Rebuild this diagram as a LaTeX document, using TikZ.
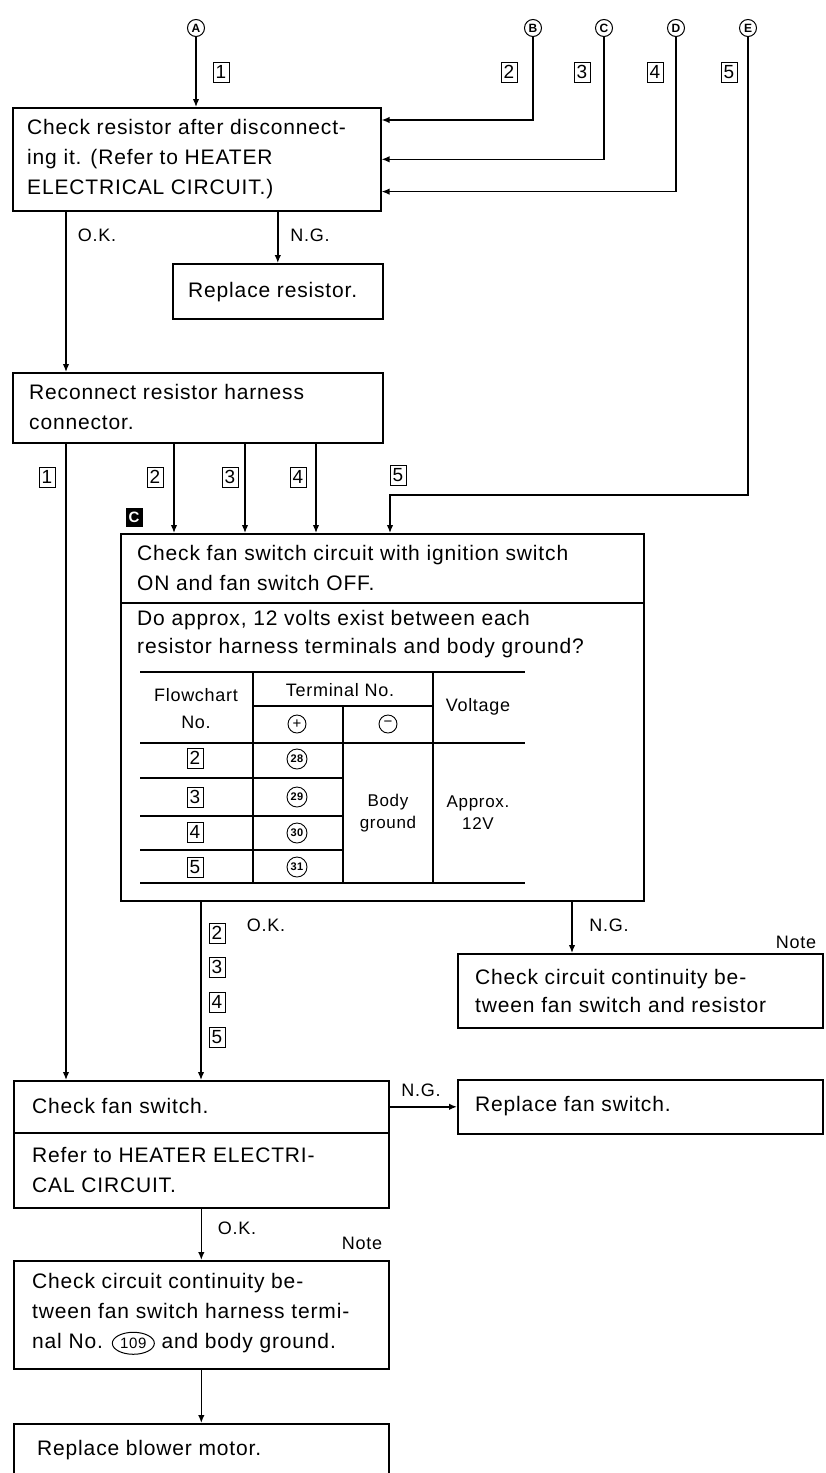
\documentclass[tikz,border=0pt]{standalone}
\usepackage{fontspec}
\setmainfont{Liberation Sans}[LetterSpace=4]
\usetikzlibrary{arrows.meta,calc,shapes.geometric}
\begin{document}
\begin{tikzpicture}[x=1pt,y=-1pt,
  every node/.style={font=\fontsize{21}{30}\selectfont},
  box/.style={draw,line width=1.6pt,anchor=north west,inner sep=0pt},
  txt/.style={anchor=west,inner sep=0pt,align=left},
  lbl/.style={inner sep=0pt,font=\fontsize{18}{18}\selectfont},
  numbox/.style={draw,line width=1pt,minimum width=16pt,minimum height=20pt,inner sep=0pt,font=\fontsize{19}{19}\selectfont},
  letc/.style={draw,circle,line width=1pt,minimum size=17pt,inner sep=0pt,font=\fontsize{12}{12}\selectfont\bfseries},
  termc/.style={draw,circle,line width=0.9pt,minimum size=20pt,inner sep=0pt,font=\fontsize{11}{11}\selectfont\bfseries},
  signc/.style={draw,circle,line width=0.9pt,minimum size=18pt,inner sep=0pt,font=\fontsize{15}{15}\selectfont},
  tab/.style={inner sep=0pt,font=\fontsize{18}{18}\selectfont},
  arr/.style={line width=1.4pt,-{Latex[length=8pt,width=6.5pt]}},
  ln/.style={line width=1.4pt},
  thickrule/.style={line width=2.2pt},
  thinrule/.style={line width=1.2pt}
]
\useasboundingbox (0,0) rectangle (825,1473);

% circled entry letters
\node[letc] (A) at (196,28) {A};
\node[letc] (B) at (533,28) {B};
\node[letc] (C) at (604,28) {C};
\node[letc] (D) at (676,28) {D};
\node[letc] (E) at (748,28) {E};

\node[numbox] (t1) at (221,72) {1};
\node[numbox] (t2) at (509,72) {2};
\node[numbox] (t3) at (582,72) {3};
\node[numbox] (t4) at (655,72) {4};
\node[numbox] (t5) at (729,72) {5};

% box 1
\node[box,minimum width=368pt,minimum height=103pt] (b1) at (12,107) {};
\node[txt] (b1t) at (27,159) {Check resistor after disconnect-\\ing it. (Refer to HEATER\\ELECTRICAL CIRCUIT.)};

% replace resistor
\node[box,minimum width=210pt,minimum height=55pt] (rr) at (172,263) {};
\node[txt] (rrt) at (188,292) {Replace resistor.};

% reconnect
\node[box,minimum width=370pt,minimum height=70pt] (rec) at (12,372) {};
\node[txt] (rect) at (29,407) {Reconnect resistor harness\\connector.};

% box C
\node[fill=black,text=white,minimum width=17pt,minimum height=19pt,inner sep=0pt,font=\fontsize{15}{15}\selectfont\bfseries] (cC) at (134,517) {C};
\node[box,minimum width=523pt,minimum height=367pt] (boxC) at (120,533) {};
\draw[ln] ($(boxC.north west)+(0,70)$) -- ($(boxC.north east)+(0,70)$);
\node[txt] (cq1) at (137,568) {Check fan switch circuit with ignition switch\\ON and fan switch OFF.};
\node[txt,font=\fontsize{21}{28}\selectfont] (cq2) at (137,634) {Do approx, 12 volts exist between each\\resistor harness terminals and body ground?};

% table
\draw[thickrule] (140,672) -- (525,672);
\draw[thickrule] (140,743) -- (525,743);
\draw[thickrule] (140,883) -- (525,883);
\draw[thinrule] (253,706) -- (433,706);
\draw[thinrule] (140,778) -- (343,778);
\draw[thinrule] (140,816) -- (343,816);
\draw[thinrule] (140,850) -- (343,850);
\draw[thinrule] (253,672) -- (253,883);
\draw[thinrule] (343,706) -- (343,883);
\draw[thinrule] (433,672) -- (433,883);
\node[tab] (h1) at (196,695) {Flowchart};
\node[tab] (h2) at (196,722) {No.};
\node[tab] (h3) at (340,690) {Terminal No.};
\node[signc] (hp) at (297,724) {+};
\node[signc] (hm) at (388,724) {−};
\node[tab] (h4) at (478,707) {Voltage};
\node[numbox] (r2) at (195,758) {2};
\node[numbox] (r3) at (195,797) {3};
\node[numbox] (r4) at (195,832) {4};
\node[numbox] (r5) at (195,867) {5};
\node[termc] (c28) at (297,759) {28};
\node[termc] (c29) at (297,797) {29};
\node[termc] (c30) at (297,833) {30};
\node[termc] (c31) at (297,867) {31};
\node[tab,align=center,font=\fontsize{17}{22}\selectfont] (bg) at (388,813) {Body\\ground};
\node[tab,align=center,font=\fontsize{17}{22}\selectfont] (ap) at (478,813) {Approx.\\12V};

% continuity 1
\node[box,minimum width=365pt,minimum height=74pt] (cont1) at (457,953) {};
\node[txt,font=\fontsize{21}{28}\selectfont] (cont1t) at (475,991) {Check circuit continuity be-\\tween fan switch and resistor};

% fan switch
\node[box,minimum width=375pt,minimum height=127pt] (fan) at (13,1080) {};
\draw[ln] ($(fan.north west)+(0,53)$) -- ($(fan.north east)+(0,53)$);
\node[txt] (fant1) at (32,1106) {Check fan switch.};
\node[txt] (fant2) at (32,1170) {Refer to HEATER ELECTRI-\\CAL CIRCUIT.};

% replace fan switch
\node[box,minimum width=365pt,minimum height=54pt] (rfs) at (457,1079) {};
\node[txt] (rfst) at (475,1106) {Replace fan switch.};

% continuity 2
\node[box,minimum width=375pt,minimum height=108pt] (cont2) at (13,1260) {};
\node[txt] (cont2t) at (32,1314) {Check circuit continuity be-\\tween fan switch harness termi-\\nal No. \tikz[baseline=(o.base)]\node[draw,ellipse,line width=1pt,inner sep=1pt,minimum height=22pt,minimum width=42pt,font=\fontsize{15}{15}\selectfont,anchor=center](o){109}; and body ground.};

% blower
\node[box,minimum width=375pt,minimum height=75pt] (blower) at (13,1423) {};
\node[txt] (blt) at (37,1450) {Replace blower motor.};

% connectors
\draw[arr] (A) -- (A |- b1.north);
\draw[arr] (B) |- ($(b1.north east)+(0,13)$);
\draw[arr] (C) |- (b1.east);
\draw[arr] (D) |- ($(b1.south east)+(0,-20)$);
\coordinate (xL) at (66,0);
\draw[arr] (b1.south -| xL) -- (rec.north -| xL);
\draw[arr] (b1.south -| rr.north) -- (rr.north);
\draw[arr] (rec.south -| xL) -- (fan.north -| xL);
\coordinate (x2) at (174,0);
\coordinate (x3) at (245,0);
\coordinate (x4) at (316,0);
\draw[arr] (rec.south -| x2) -- (boxC.north -| x2);
\draw[arr] (rec.south -| x3) -- (boxC.north -| x3);
\draw[arr] (rec.south -| x4) -- (boxC.north -| x4);
\coordinate (e5) at (390,495);
\draw[arr] (E) |- (e5) -- (boxC.north -| e5);
\coordinate (xok) at (201,0);
\draw[arr] (boxC.south -| xok) -- (fan.north -| xok);
\coordinate (xng) at (572,0);
\draw[arr] (boxC.south -| xng) -- (cont1.north -| xng);
\draw[arr] (fan.east |- rfs.west) -- (rfs.west);
\draw[arr] (fan.south) -- (cont2.north);
\draw[arr] (cont2.south) -- (blower.north);

% labels
\node[lbl] (ok1) at (97,235) {O.K.};
\node[lbl] (ng1) at (310,235) {N.G.};
\node[numbox] (s1) at (47,477) {1};
\node[numbox] (s2) at (155,477) {2};
\node[numbox] (s3) at (230,477) {3};
\node[numbox] (s4) at (298,477) {4};
\node[numbox] (s5) at (398,475) {5};
\node[numbox] (u2) at (217,933) {2};
\node[numbox] (u3) at (217,967) {3};
\node[numbox] (u4) at (217,1002) {4};
\node[numbox] (u5) at (217,1037) {5};
\node[lbl] (ok2) at (266,925) {O.K.};
\node[lbl] (ng2) at (609,925) {N.G.};
\node[lbl] (note1) at (796,942) {Note};
\node[lbl] (ng3) at (421,1090) {N.G.};
\node[lbl] (ok3) at (237,1228) {O.K.};
\node[lbl] (note2) at (362,1243) {Note};
\end{tikzpicture}
\end{document}
